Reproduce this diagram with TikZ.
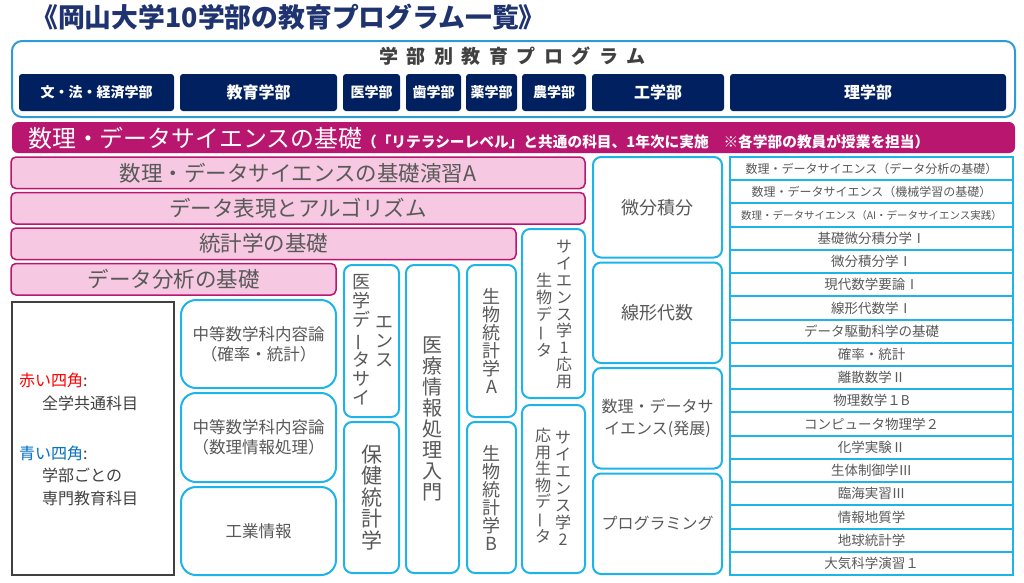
\documentclass[tikz,border=0pt]{standalone}
\usepackage{fontspec}
\setmainfont{Noto Sans CJK JP}
\usepackage{xcolor}
\usepackage{graphicx}
\usepackage{tikz}
\usetikzlibrary{positioning}

\definecolor{fnavy}{HTML}{002060}
\definecolor{tnavy}{HTML}{1F3370}
\definecolor{wakuao}{HTML}{2E9BD6}
\definecolor{mizu}{HTML}{1EB4EA}
\definecolor{aka}{HTML}{B8166F}
\definecolor{momo}{HTML}{F6C8E1}
\definecolor{hai}{HTML}{595959}
\definecolor{kuro}{HTML}{404040}
\definecolor{ao}{HTML}{0070C0}

\newcommand\fs[1]{\fontsize{#1}{#1}\selectfont}
\newcommand\tbar{\rotatebox[origin=c]{90}{ー}}
\newcommand\aki{\hspace{8.5pt}}

\begin{document}
\begin{tikzpicture}[x=1pt, y=-1pt,
		fac/.style = {fill=fnavy, rounded corners=3pt, text=white, font=\bfseries\fs{14}, minimum height=37pt, inner sep=0pt, outer sep=0pt},
		pink/.style = {draw=aka, line width=1.5pt, fill=momo, rounded corners=5pt, text=hai, font=\fs{21.5}, minimum height=31.5pt, inner sep=0pt, outer sep=0pt},
		kamoku/.style = {draw=mizu, line width=2pt, fill=white, rounded corners=8pt, text=hai, inner sep=0pt, outer sep=0pt, align=center},
		ritsu/.style = {draw=mizu, line width=2pt, fill=white, text=hai, font=\fs{13.5}, minimum width=283pt, minimum height=23.22pt, inner sep=0pt, outer sep=0pt},
		tate/.style = {text=hai, align=center, inner sep=0pt}
		]
		\useasboundingbox (0,0) rectangle (1024,582);
		\fill[white] (0,0) rectangle (1024,582);
		
		\node (daimei) [font=\bfseries\fs{26.8}, text=tnavy] at (288.5,17) {《岡山大学10学部の教育プログラム一覧》};
		
		%faculty row
		\node (waku) [draw=wakuao, line width=2pt, rounded corners=10pt, minimum width=1003pt, minimum height=76pt, inner sep=0pt, outer sep=0pt, anchor=north west] at (12,41) {};
		\node (midashi) [font=\bfseries\fs{19}, text=kuro] at (512.5,56) {学\aki 部\aki 別\aki 教\aki 育\aki プ\aki ロ\aki グ\aki ラ\aki ム};
		
		\node (bun) [fac, minimum width=155pt, anchor=north west] at (19,74) {文・法・経済学部};
		\node (kyo) [fac, right=6pt of bun, minimum width=157pt, font=\bfseries\fs{16}] {教育学部};
		\node (med) [fac, right=6pt of kyo, minimum width=57pt] {医学部};
		\node (shi) [fac, right=6pt of med, minimum width=55pt] {歯学部};
		\node (yak) [fac, right=5pt of shi, minimum width=51pt] {薬学部};
		\node (nou) [fac, right=5pt of yak, minimum width=64pt] {農学部};
		\node (kou) [fac, right=6pt of nou, minimum width=132pt, font=\bfseries\fs{16}] {工学部};
		\node (ri) [fac, right=6pt of kou, minimum width=276pt, font=\bfseries\fs{16}] {理学部};
		
		%common subjects
		\node (kiso) [fill=aka, rounded corners=6pt, minimum width=1003pt, minimum height=31pt, inner sep=0pt, outer sep=0pt, anchor=north west] at (12,122) {};
		\node (kisomoji) [text=white, anchor=west, inner sep=0pt] at (28,138) {\fs{23.9}数理・データサイエンスの基礎{\bfseries\fs{14.7}（「リテラシーレベル」と共通の科目、1年次に実施　※各学部の教員が授業を担当）}};
		
		\node (p1) [pink, minimum width=574pt, anchor=north west] at (11,157) {数理・データサイエンスの基礎演習A};
		\node (p2) [pink, minimum width=574pt, below=4pt of p1.south west, anchor=north west] {データ表現とアルゴリズム};
		\node (p3) [pink, minimum width=505pt, below=4pt of p2.south west, anchor=north west] {統計学の基礎};
		\node (p4) [pink, minimum width=325pt, below=4pt of p3.south west, anchor=north west] {データ分析の基礎};
		
		%legend
		\node (hanrei) [draw=kuro, line width=2pt, minimum width=162pt, minimum height=273pt, inner sep=0pt, outer sep=0pt, anchor=north west] at (12,302) {};
		\node (aka1) [text=kuro, font=\fs{16}, anchor=west, inner sep=0pt] at (19,380) {\textcolor{red}{赤い四角}:};
		\node (aka2) [text=kuro, font=\fs{16}, anchor=west, inner sep=0pt] at (42,403) {全学共通科目};
		\node (ao1) [text=kuro, font=\fs{16}, anchor=west, inner sep=0pt] at (19,453) {\textcolor{ao}{青い四角}:};
		\node (ao2) [text=kuro, font=\fs{16}, anchor=west, inner sep=0pt] at (42,475) {学部ごとの};
		\node (ao3) [text=kuro, font=\fs{16}, anchor=west, inner sep=0pt] at (42,498) {専門教育科目};
		
		%education
		\node (chu1) [kamoku, rounded corners=15pt, minimum width=155pt, minimum height=88pt, font=\fontsize{16.5}{20}\selectfont, anchor=north west] at (181,300) {中等数学科内容論\\（確率・統計）};
		\node (chu2) [kamoku, rounded corners=15pt, minimum width=155pt, minimum height=89pt, font=\fontsize{16.5}{20}\selectfont, below=5pt of chu1] {中等数学科内容論\\（数理情報処理）};
		\node (kogyo) [kamoku, rounded corners=15pt, minimum width=155pt, minimum height=88pt, font=\fs{16.5}, below=5pt of chu2] {工業情報};
		
		%medicine, health, biology
		\node (ids) [kamoku, minimum width=55pt, minimum height=152pt, anchor=north west] at (344,265) {};
		\node (ids1) [tate, font=\fontsize{18}{19}\selectfont] at (361.5,340) {医\\学\\デ\\\tbar\\タ\\サ\\イ};
		\node (ids2) [tate, font=\fontsize{18}{19}\selectfont] at (384,341.5) {エ\\ン\\ス};
		\node (hoken) [kamoku, minimum width=55pt, minimum height=151pt, font=\fontsize{21}{21.5}\selectfont, below=5pt of ids] {保\\健\\統\\計\\学};
		\node (iryo) [kamoku, minimum width=53pt, minimum height=308pt, font=\fontsize{20}{21}\selectfont, anchor=north west] at (406,265) {医\\療\\情\\報\\処\\理\\入\\門};
		\node (seiA) [kamoku, minimum width=49pt, minimum height=152pt, font=\fontsize{18}{18}\selectfont, anchor=north west] at (467,265) {生\\物\\統\\計\\学\\A};
		\node (seiB) [kamoku, minimum width=49pt, minimum height=151pt, font=\fontsize{18}{18}\selectfont, below=5pt of seiA] {生\\物\\統\\計\\学\\B};
		
		\node (oyo1) [kamoku, minimum width=63pt, minimum height=169pt, anchor=north west] at (522,229) {};
		\node (oyo1a) [tate, font=\fontsize{16}{16.9}\selectfont] at (564,314.5) {サ\\イ\\エ\\ン\\ス\\学\\1\\応\\用};
		\node (oyo1b) [tate, font=\fontsize{16}{16.9}\selectfont] at (544,315) {生\\物\\デ\\\tbar\\タ};
		\node (oyo2) [kamoku, minimum width=63pt, minimum height=168pt, below=7pt of oyo1] {};
		\node (oyo2a) [tate, font=\fontsize{16}{17}\selectfont] at (563,488.5) {サ\\イ\\エ\\ン\\ス\\学\\2};
		\node (oyo2b) [tate, font=\fontsize{16}{16.5}\selectfont] at (543,486) {応\\用\\生\\物\\デ\\\tbar\\タ};
		
		%engineering
		\node (bibun) [kamoku, minimum width=129pt, minimum height=100.5pt, font=\fs{18}, anchor=north west] at (593,157) {微分積分};
		\node (senkei) [kamoku, minimum width=129pt, minimum height=100.5pt, font=\fs{18}, below=5pt of bibun] {線形代数};
		\node (hatten) [kamoku, minimum width=129pt, minimum height=100.5pt, font=\fontsize{16}{22}\selectfont, below=5pt of senkei] {数理・データサ\\イエンス(発展)};
		\node (prog) [kamoku, minimum width=129pt, minimum height=100.5pt, font=\fs{16}, below=5pt of hatten] {プログラミング};
		
		%science
		\node (ri1) [ritsu, font=\fs{12}, anchor=north west] at (730,157) {数理・データサイエンス（データ分析の基礎）};
		\node (ri2) [ritsu, font=\fs{12}, below=0pt of ri1] {数理・データサイエンス（機械学習の基礎）};
		\node (ri3) [ritsu, font=\fs{10.5}, below=0pt of ri2] {数理・データサイエンス（AI・データサイエンス実践）};
		\node (ri4) [ritsu, below=0pt of ri3] {基礎微分積分学Ⅰ};
		\node (ri5) [ritsu, below=0pt of ri4] {微分積分学Ⅰ};
		\node (ri6) [ritsu, below=0pt of ri5] {現代数学要論Ⅰ};
		\node (ri7) [ritsu, below=0pt of ri6] {線形代数学Ⅰ};
		\node (ri8) [ritsu, below=0pt of ri7] {データ駆動科学の基礎};
		\node (ri9) [ritsu, below=0pt of ri8] {確率・統計};
		\node (ri10) [ritsu, below=0pt of ri9] {離散数学Ⅱ};
		\node (ri11) [ritsu, below=0pt of ri10] {物理数学１B};
		\node (ri12) [ritsu, below=0pt of ri11] {コンピュータ物理学２};
		\node (ri13) [ritsu, below=0pt of ri12] {化学実験Ⅱ};
		\node (ri14) [ritsu, below=0pt of ri13] {生体制御学Ⅲ};
		\node (ri15) [ritsu, below=0pt of ri14] {臨海実習Ⅲ};
		\node (ri16) [ritsu, below=0pt of ri15] {情報地質学};
		\node (ri17) [ritsu, below=0pt of ri16] {地球統計学};
		\node (ri18) [ritsu, below=0pt of ri17] {大気科学演習１};
		
\end{tikzpicture}
\end{document}
